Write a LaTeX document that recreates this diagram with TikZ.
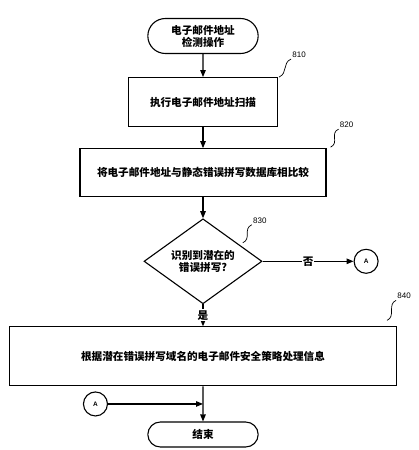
\documentclass[tikz,border=0pt]{standalone}
\usepackage{fontspec}
\setmainfont{Liberation Sans}
\newfontfamily\cjk{Noto Sans CJK SC}
\usetikzlibrary{arrows.meta,positioning,shapes.geometric,shapes.misc,calc}

\begin{document}
\begin{tikzpicture}[>={Triangle[length=7pt,width=5.5pt]},line width=1.1pt,node distance=21pt,
  cn/.style={font=\cjk\bfseries\fontsize{10.6}{12}\selectfont},
  term/.style={cn,draw,rounded rectangle,align=center,minimum width=117pt,minimum height=35pt},
  proc/.style={cn,draw,rectangle,align=center},
  decide/.style={cn,draw,diamond,aspect=1.4,align=center,inner sep=1pt,minimum width=118pt,minimum height=85pt},
  conn/.style={draw,circle,minimum size=24pt,inner sep=0pt,font=\bfseries\fontsize{6.5}{7}\selectfont},
  tag/.style={anchor=south west,inner sep=1pt,font=\fontsize{8}{9}\selectfont},
  wiggle/.style={line width=0.7pt}]

  \useasboundingbox (0,0) rectangle (418pt,-450pt);

  \node[term]	(start) at (203pt,-36pt)	{电子邮件地址\\检测操作};
  \node[proc,minimum width=149pt,minimum height=49pt]	(scan) [below=23pt of start]	{执行电子邮件地址扫描};
  \node[proc,minimum width=246pt,minimum height=48pt]	(cmp) [below=of scan]	{将电子邮件地址与静态错误拼写数据库相比较};
  \node[decide]	(found) [below=of cmp]	{识别到潜在的\\错误拼写?};
  \node[proc,minimum width=387pt,minimum height=59pt]	(handle) [below=22pt of found]	{根据潜在错误拼写域名的电子邮件安全策略处理信息};
  \node[term,minimum height=25pt]	(stop) [below=35pt of handle]	{结束};
  \node[conn]	(A1) [right=91pt of found]	{A};
  \coordinate (join) at ($(handle.south)!.5!(stop.north)$);
  \node[conn]	(A2) [left=95pt of join]	{A};

  \path [->]
        (start) edge	(scan)
        (scan) edge	(cmp)
        (cmp) edge	(found)
        (found) edge	node[cn,fill=white,inner sep=1pt] {是} (handle)
        (found) edge	node[cn,fill=white,inner sep=1pt] {否} (A1)
        (handle) edge	(stop)
        (A2) edge	(join);

  % reference numbers
  \draw[wiggle] (scan.north east) ++(1pt,0) .. controls +(9pt,4pt) and +(-9pt,-4pt) .. +(12pt,18pt) node[tag] {810};
  \draw[wiggle] (cmp.north east) ++(4pt,1pt) .. controls +(9pt,4pt) and +(-9pt,-4pt) .. +(8pt,18pt) node[tag] {820};
  \draw[wiggle] (found.north east) ++(10pt,-3pt) .. controls +(9pt,4pt) and +(-9pt,-4pt) .. +(9pt,18pt) node[tag] {830};
  \draw[wiggle] (handle.north east) ++(-10pt,6pt) .. controls +(9pt,4pt) and +(-9pt,-4pt) .. +(9pt,20pt) node[tag] {840};
\end{tikzpicture}
\end{document}
